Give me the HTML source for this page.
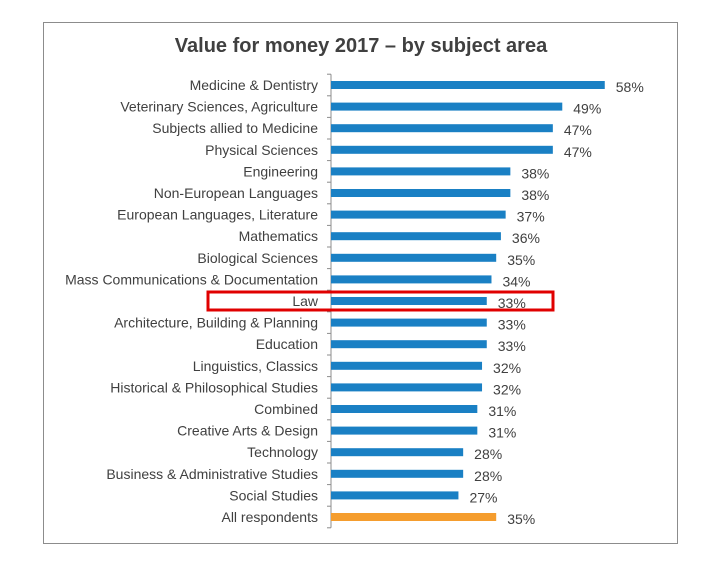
<!DOCTYPE html>
<html><head><meta charset="utf-8"><style>
body{margin:0;background:#fff;width:709px;height:562px;overflow:hidden;font-family:"Liberation Sans",sans-serif}
</style></head><body>
<svg width="709" height="562" xmlns="http://www.w3.org/2000/svg">
<rect x="43.5" y="22.5" width="634" height="521" fill="#fff" stroke="#8c8c8c"/>
<text x="361" y="52" text-anchor="middle" font-size="20" font-weight="bold" fill="#404040">Value for money 2017 – by subject area</text>
<g id="plot"></g>
<rect x="208" y="292" width="345" height="18" fill="none" stroke="#e00000" stroke-width="3"/>
</svg>
<script>
const categories=["Medicine & Dentistry","Veterinary Sciences, Agriculture","Subjects allied to Medicine","Physical Sciences","Engineering","Non-European Languages","European Languages, Literature","Mathematics","Biological Sciences","Mass Communications & Documentation","Law","Architecture, Building & Planning","Education","Linguistics, Classics ","Historical & Philosophical Studies","Combined","Creative Arts & Design","Technology","Business & Administrative Studies","Social Studies","All respondents"];
const values=[58,49,47,47,38,38,37,36,35,34,33,33,33,32,32,31,31,28,28,27,35];
const ns="http://www.w3.org/2000/svg";
const g=document.getElementById('plot');
const x0=331,scale=4.72,y0=85,pitch=21.6;
const xs=v=>x0+v*scale, ys=i=>y0+i*pitch;
function mk(t,a){const e=document.createElementNS(ns,t);for(const k in a)e.setAttribute(k,a[k]);g.appendChild(e);return e;}
const axis=mk('line',{x1:x0,x2:x0,y1:ys(0)-pitch/2,y2:ys(categories.length-1)+pitch/2,stroke:'#8c8c8c'});


for(let i=0;i<=categories.length;i++){
  const tk=mk('line',{x1:x0-4,x2:x0,y1:ys(i)-pitch/2,y2:ys(i)-pitch/2,stroke:'#8c8c8c'});
  
  
}
categories.forEach((c,i)=>{
  const y=ys(i);
  const last=i===categories.length-1;
  const b=mk('rect',{x:x0,y:y-4,width:values[i]*scale,height:8,fill:last?'#f59d2e':'#1a80c4'});
  
  
  const l=mk('text',{x:318,y:y+5,'text-anchor':'end','font-size':14,fill:'#404040'});
  l.textContent=c;
  
  
  const v=mk('text',{x:xs(values[i])+11,y:y+7,'font-size':14,fill:'#404040'});
  v.textContent=values[i]+'%';
  
  
});
</script>
</body></html>
